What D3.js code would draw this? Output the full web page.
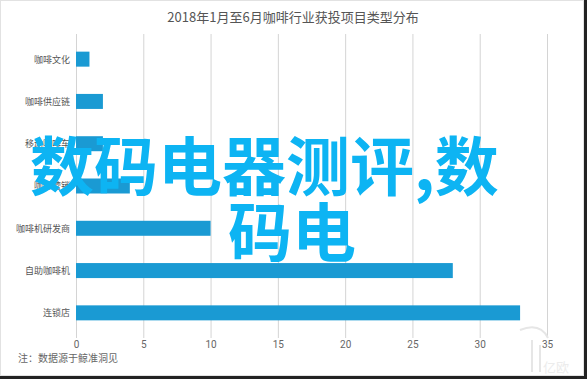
<!DOCTYPE html>
<html>
<head>
<meta charset="utf-8">
<script src="https://cdn.jsdelivr.net/npm/d3@7"></script>
<style>
  body { margin: 0; background: #fff; }
  svg { display: block; font-family: "Noto Sans CJK SC", "Noto Sans", sans-serif; }
</style>
</head>
<body>
<svg></svg>
<script>
const width = 587
const height = 379

// data
const categories = ["咖啡文化", "咖啡供应链", "移动咖啡车", "咖啡营销", "咖啡机研发商", "自助咖啡机", "连锁店"]
const counts = [1, 2, 2, 4, 10, 28, 33]
const tickValues = [0, 5, 10, 15, 20, 25, 30, 35]

const title = "2018年1月至6月咖啡行业获投项目类型分布"
const note = "注：数据源于鲸准洞见"
const overlayLines = ["数码电器测评,数", "码电"]

const svg = d3.select("svg")
    .attr("width", width)
    .attr("height", height)

// frame
svg.append("rect")
    .attr("x", 0.5).attr("y", 0.5)
    .attr("width", 583).attr("height", 375)
    .attr("fill", "#fff")
    .attr("stroke", "#e2e2e2")
svg.append("rect").attr("x", 584).attr("y", 0).attr("width", 3).attr("height", height).attr("fill", "#222")
svg.append("rect").attr("x", 0).attr("y", 376).attr("width", width).attr("height", 3).attr("fill", "#222")

// title
svg.append("text")
    .attr("x", 293)
    .attr("y", 22)
    .attr("text-anchor", "middle")
    .attr("font-size", "13px")
    .attr("fill", "#555")
    .text(title)

const x = d3.scaleLinear()
    .domain([0, 35])
    .range([76, 547])

const y = d3.scalePoint()
    .domain(categories)
    .range([38, 334])
    .padding(0.5)

const barHeight = 15

// grid lines
svg.append("g")
    .selectAll("line")
    .data(tickValues)
    .join("line")
    .attr("x1", d => x(d) + 0.5)
    .attr("x2", d => x(d) + 0.5)
    .attr("y1", 34)
    .attr("y2", 338)
    .attr("stroke", "#d4d4d4")

// x tick labels
const xAxis = d3.axisBottom(x).tickValues(tickValues).tickSize(0).tickPadding(0)
svg.append("g")
    .attr("transform", "translate(0, 340)")
    .call(xAxis)
    .call(g => g.select(".domain").remove())
    .selectAll("text")
    .attr("font-family", "Roboto, sans-serif")
    .attr("font-size", "10px")
    .attr("fill", "#666")
    .attr("dy", "0.75em")

// category labels
const yAxis = d3.axisLeft(y).tickSize(0).tickPadding(6)
svg.append("g")
    .attr("transform", "translate(76, 0)")
    .call(yAxis)
    .call(g => g.select(".domain").remove())
    .selectAll("text")
    .attr("font-family", "\"Noto Sans CJK SC\", sans-serif")
    .attr("font-size", "9px")
    .attr("fill", "#555")

// bars
svg.append("g")
    .selectAll("rect")
    .data(categories)
    .join("rect")
    .attr("x", x(0))
    .attr("y", d => y(d) - barHeight / 2)
    .attr("width", (d, i) => x(counts[i]) - x(0))
    .attr("height", barHeight)
    .attr("fill", "#1a9ad3")

// note
svg.append("text")
    .attr("x", 18)
    .attr("y", 362)
    .attr("font-size", "10px")
    .attr("fill", "#666")
    .text(note)

// faint logo at bottom right
const logo = svg.append("g").attr("fill", "none").attr("stroke", "#e6e6e6").attr("stroke-width", 2)
logo.append("path").attr("d", "M520,330 Q540,322 548,338")
logo.append("path").attr("d", "M532,340 L532,372")
logo.append("path").attr("d", "M540,345 L540,372")
svg.append("text")
    .attr("x", 556)
    .attr("y", 372)
    .attr("text-anchor", "middle")
    .attr("font-size", "13px")
    .attr("fill", "#ececec")
    .text("亿欧")

// overlay text
svg.append("text")
    .attr("x", 30)
    .attr("y", 190)
    .attr("font-size", "64px")
    .attr("font-weight", "bold")
    .attr("fill", "#0db4f3")
    .text(overlayLines[0])
svg.append("text")
    .attr("x", 228)
    .attr("y", 256)
    .attr("font-size", "64px")
    .attr("font-weight", "bold")
    .attr("fill", "#0db4f3")
    .text(overlayLines[1])
</script>
</body>
</html>
